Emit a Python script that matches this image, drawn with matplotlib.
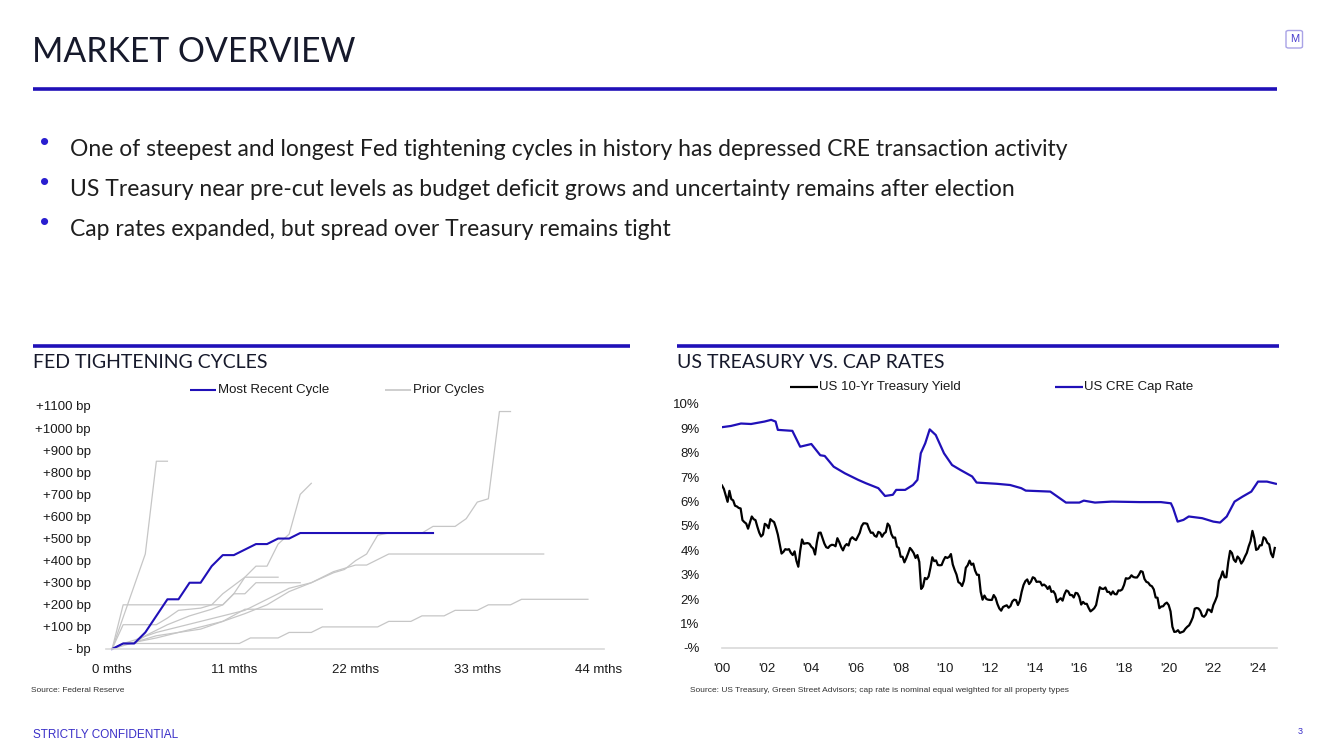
import matplotlib
matplotlib.use("Agg")
import matplotlib.pyplot as plt
from matplotlib.lines import Line2D
from matplotlib.patches import FancyBboxPatch

W, H = 1333, 749
BLUE = "#2010b8"
GREY = "#c6c6c6"
SANS = ["Liberation Sans", "DejaVu Sans"]
HEAD = ["Lato", "DejaVu Sans"]

# ---------------- data: Fed tightening cycles (months, bp) ----------------
recent_months = [0, 1, 2, 3, 4, 5, 6, 7, 8, 9, 10, 11, 12, 13, 14, 15, 16, 17, 29]
recent_bp = [0, 25, 25, 75, 150, 225, 225, 300, 300, 375, 425, 425, 450, 475, 475, 500, 500, 525, 525]

steep_months = [0, 3, 4, 5]
steep_bp = [0, 430, 850, 850]

c750_months = [0, 1, 10, 11, 12, 13, 14, 15, 16, 17, 18]
c750_bp = [0, 200, 200, 250, 325, 375, 375, 475, 520, 700, 750]

c320_months = [0, 1, 4, 5, 6, 8, 9, 10, 12, 15]
c320_bp = [0, 110, 110, 140, 175, 185, 200, 250, 325, 325]

c300_months = [0, 1, 2, 3, 5, 7, 9, 10, 11, 12, 13, 17]
c300_bp = [0, 25, 25, 60, 110, 150, 180, 200, 250, 250, 300, 300]

c180_months = [0, 1, 2, 4, 6, 8, 10, 12, 19]
c180_bp = [0, 25, 30, 60, 75, 90, 125, 180, 180]

c1075_months = [0, 2, 4, 6, 8, 10, 12, 14, 16, 18, 20, 21, 22, 23, 24, 25, 28, 29, 31, 32, 33, 34, 35, 36]
c1075_bp = [0, 30, 50, 75, 100, 125, 160, 200, 260, 300, 345, 360, 400, 430, 515, 525, 525, 555, 555, 590, 665, 680, 1075, 1075]

c425_months = [0, 1, 2, 4, 6, 8, 10, 12, 14, 16, 18, 20, 22, 23, 25, 39]
c425_bp = [0, 25, 40, 75, 100, 125, 150, 175, 225, 275, 300, 350, 380, 380, 430, 430]

c225_months = [0, 1, 11.5, 12.5, 15, 16, 18, 19, 24, 25, 27, 28, 30, 31, 33, 34, 36, 37, 43]
c225_bp = [0, 25, 25, 50, 50, 75, 75, 100, 100, 125, 125, 150, 150, 175, 175, 200, 200, 225, 225]

prior_cycles = [
    (steep_months, steep_bp), (c750_months, c750_bp), (c320_months, c320_bp),
    (c300_months, c300_bp), (c180_months, c180_bp), (c1075_months, c1075_bp),
    (c425_months, c425_bp), (c225_months, c225_bp),
]
cycle_ticks = [0, 11, 22, 33, 44]
bp_ticks = list(range(0, 1200, 100))

# ---------------- data: US 10yr Treasury (monthly, Jan 2000 - Oct 2024) ----------------
treasury = [
    6.66, 6.52, 6.26, 5.99, 6.44, 6.10, 6.05, 5.83, 5.80, 5.74, 5.72, 5.24,
    5.16, 5.10, 4.89, 5.14, 5.39, 5.28, 5.24, 4.97, 4.73, 4.57, 4.65, 5.09,
    5.04, 4.91, 5.28, 5.21, 5.16, 4.93, 4.65, 4.26, 3.87, 3.94, 4.05, 4.03,
    4.05, 3.90, 3.81, 3.96, 3.57, 3.33, 3.98, 4.45, 4.27, 4.29, 4.30, 4.27,
    4.15, 4.08, 3.83, 4.35, 4.72, 4.73, 4.50, 4.28, 4.13, 4.10, 4.19, 4.23,
    4.22, 4.17, 4.50, 4.34, 4.14, 4.00, 4.18, 4.26, 4.20, 4.46, 4.54, 4.47,
    4.42, 4.57, 4.72, 4.99, 5.11, 5.11, 5.09, 4.88, 4.72, 4.73, 4.60, 4.56,
    4.76, 4.72, 4.56, 4.69, 4.75, 5.10, 5.00, 4.67, 4.52, 4.53, 4.15, 4.10,
    3.74, 3.74, 3.51, 3.68, 3.88, 4.10, 4.01, 3.89, 3.69, 3.81, 3.53, 2.42,
    2.52, 2.87, 2.82, 2.93, 3.29, 3.72, 3.56, 3.59, 3.40, 3.39, 3.40, 3.59,
    3.73, 3.69, 3.73, 3.85, 3.42, 3.20, 3.01, 2.70, 2.65, 2.54, 2.76, 3.29,
    3.39, 3.58, 3.41, 3.46, 3.17, 3.00, 3.00, 2.30, 1.98, 2.15, 2.01, 1.98,
    1.97, 1.97, 2.17, 2.05, 1.80, 1.62, 1.53, 1.68, 1.72, 1.75, 1.65, 1.72,
    1.91, 1.98, 1.96, 1.76, 1.93, 2.30, 2.58, 2.74, 2.81, 2.62, 2.72, 2.90,
    2.86, 2.71, 2.72, 2.71, 2.56, 2.60, 2.54, 2.42, 2.53, 2.30, 2.33, 2.21,
    1.88, 1.98, 2.04, 1.94, 2.20, 2.36, 2.32, 2.17, 2.17, 2.07, 2.26, 2.24,
    2.09, 1.78, 1.89, 1.81, 1.81, 1.64, 1.50, 1.56, 1.63, 1.76, 2.14, 2.49,
    2.43, 2.42, 2.48, 2.30, 2.30, 2.19, 2.32, 2.21, 2.20, 2.36, 2.35, 2.40,
    2.58, 2.86, 2.84, 2.87, 2.98, 2.91, 2.89, 2.89, 3.00, 3.15, 3.12, 2.83,
    2.71, 2.68, 2.57, 2.53, 2.40, 2.07, 2.06, 1.63, 1.70, 1.71, 1.81, 1.86,
    1.76, 1.50, 0.87, 0.66, 0.67, 0.73, 0.62, 0.65, 0.68, 0.79, 0.87, 0.93,
    1.08, 1.26, 1.61, 1.64, 1.62, 1.52, 1.32, 1.28, 1.37, 1.58, 1.56, 1.47,
    1.76, 1.93, 2.13, 2.75, 2.90, 3.14, 2.90, 2.90, 3.52, 3.98, 3.89, 3.62,
    3.53, 3.75, 3.66, 3.46, 3.57, 3.75, 3.90, 4.17, 4.38, 4.80, 4.50, 4.02,
    4.06, 4.21, 4.21, 4.54, 4.48, 4.31, 4.25, 3.87, 3.72, 4.10,
]
treasury_years = [2000 + i / 12 for i in range(len(treasury))]

# ---------------- data: US CRE cap rate ----------------
cap_years = [2000.0, 2000.4, 2000.85, 2001.3, 2001.9, 2002.2, 2002.4, 2002.5, 2003.15, 2003.5,
             2004.0, 2004.4, 2004.6, 2005.0, 2005.5, 2006.1, 2006.45, 2007.0, 2007.3, 2007.65,
             2007.8, 2008.2, 2008.55, 2008.75, 2008.9, 2009.1, 2009.3, 2009.57, 2009.94, 2010.3,
             2010.67, 2011.2, 2011.4, 2012.3, 2012.9, 2013.4, 2013.6, 2014.7, 2015.4, 2016.0,
             2016.2, 2016.7, 2017.45, 2018.7, 2019.65, 2020.1, 2020.2, 2020.4, 2020.66, 2020.9,
             2021.5, 2022.0, 2022.3, 2022.6, 2022.95, 2023.3, 2023.7, 2024.0, 2024.4, 2024.8]
cap_rate = [9.05, 9.1, 9.2, 9.18, 9.28, 9.35, 9.28, 8.94, 8.9, 8.25,
            8.36, 7.9, 7.87, 7.43, 7.16, 6.89, 6.75, 6.55, 6.23, 6.28,
            6.48, 6.48, 6.68, 6.89, 7.98, 8.39, 8.96, 8.73, 7.98, 7.5,
            7.3, 7.03, 6.78, 6.73, 6.68, 6.55, 6.45, 6.41, 5.96, 5.96,
            6.04, 5.96, 6.0, 5.98, 5.98, 5.93, 5.73, 5.18, 5.25, 5.39,
            5.32, 5.18, 5.14, 5.39, 6.0, 6.2, 6.41, 6.82, 6.82, 6.73]
year_ticks = list(range(2000, 2025, 2))
pct_ticks = list(range(0, 11))

bullets = [
    "One of steepest and longest Fed tightening cycles in history has depressed CRE transaction activity",
    "US Treasury near pre-cut levels as budget deficit grows and uncertainty remains after election",
    "Cap rates expanded, but spread over Treasury remains tight",
]

fig = plt.figure(figsize=(W / 100, H / 100), dpi=100)


def fx(px):
    return px / W


def fy(py):
    return 1 - py / H


def axes_px(x0, y0, x1, y1):
    return fig.add_axes([fx(x0), fy(y1), (x1 - x0) / W, (y1 - y0) / H])


def hline(x0, x1, y, color, lw):
    fig.add_artist(Line2D([fx(x0), fx(x1)], [fy(y), fy(y)], color=color, lw=lw,
                          solid_capstyle="butt"))


# header
fig.text(fx(32), fy(52), "MARKET OVERVIEW", fontsize=24.3, family=HEAD, color="#16192b",
         va="center", ha="left")
hline(33, 1277, 88.5, BLUE, 2.6)
fig.add_artist(FancyBboxPatch((fx(1286), fy(48)), fx(16.5), 17.5 / H,
                              boxstyle="round,pad=0,rounding_size=0.002",
                              fc="white", ec="#a9a3e6", lw=1.0, transform=fig.transFigure))
fig.text(fx(1294.3), fy(39.5), "M", fontsize=8, family=SANS, color="#4a3fcf",
         ha="center", va="center")

for i, b in enumerate(bullets):
    y = 148 + 40 * i
    fig.text(fx(45), fy(y - 5), "\u2022", fontsize=19, color="#2a1fd0", ha="center",
             va="center", family=SANS)
    fig.text(fx(70), fy(y + 2), b, fontsize=16.5, family=HEAD, color="#1e1e1e",
             ha="left", va="center")

# panel headings
hline(33, 630, 346, BLUE, 2.6)
hline(677, 1279, 346, BLUE, 2.6)
fig.text(fx(33), fy(362), "FED TIGHTENING CYCLES", fontsize=14, family=HEAD,
         color="#16192b", va="center")
fig.text(fx(677), fy(362), "US TREASURY VS. CAP RATES", fontsize=14, family=HEAD,
         color="#16192b", va="center")

# ---------------- left chart ----------------
ax1 = axes_px(106, 406, 604, 649)
for m, v in prior_cycles:
    ax1.plot(m, v, color=GREY, lw=0.9, clip_on=False)
ax1.plot(recent_months, recent_bp, color=BLUE, lw=1.5, clip_on=False)
ax1.set_xlim(-0.55, 44.45)
ax1.set_ylim(0, 1100)
ax1.set_xticks(cycle_ticks)
ax1.set_xticklabels([f"{t} mths" for t in cycle_ticks])
ax1.set_yticks(bp_ticks)
ax1.set_yticklabels(["- bp"] + [f"+{t} bp" for t in bp_ticks[1:]])
ax1.tick_params(length=0, labelsize=9.5, pad=11, colors="#1a1a1a")
for lab in ax1.get_xticklabels() + ax1.get_yticklabels():
    lab.set_family(SANS)
for s in ["top", "right", "left"]:
    ax1.spines[s].set_visible(False)
ax1.spines["bottom"].set_color("#d9d9d9")
ax1.spines["bottom"].set_linewidth(1.2)
ax1.patch.set_alpha(0)

hline(190, 216, 390, BLUE, 1.5)
fig.text(fx(218), fy(390), "Most Recent Cycle", fontsize=9.5, family=SANS,
         color="#1a1a1a", va="center")
hline(385, 411, 390, GREY, 1.2)
fig.text(fx(413), fy(390), "Prior Cycles", fontsize=9.5, family=SANS,
         color="#1a1a1a", va="center")
fig.text(fx(31), fy(690), "Source: Federal Reserve", fontsize=6, family=SANS,
         color="#333333", va="center")

# ---------------- right chart ----------------
ax2 = axes_px(722, 404, 1277, 648)
ax2.plot(treasury_years, treasury, color="black", lw=1.6)
ax2.plot(cap_years, cap_rate, color=BLUE, lw=1.6)
ax2.set_xlim(2000, 2024.85)
ax2.set_ylim(0, 10)
ax2.set_xticks(year_ticks)
ax2.set_xticklabels([f"'{t % 100:02d}" for t in year_ticks])
ax2.set_yticks(pct_ticks)
ax2.set_yticklabels(["-%"] + [f"{t}%" for t in pct_ticks[1:]])
ax2.tick_params(length=0, labelsize=9.5, colors="#1a1a1a")
ax2.tick_params(axis="y", pad=16)
ax2.tick_params(axis="x", pad=11)
for lab in ax2.get_xticklabels() + ax2.get_yticklabels():
    lab.set_family(SANS)
for s in ["top", "right", "left"]:
    ax2.spines[s].set_visible(False)
ax2.spines["bottom"].set_color("#d9d9d9")
ax2.spines["bottom"].set_linewidth(1.2)
ax2.patch.set_alpha(0)

hline(790, 818, 387, "black", 1.6)
fig.text(fx(819), fy(387), "US 10-Yr Treasury Yield", fontsize=9.5, family=SANS,
         color="#1a1a1a", va="center")
hline(1055, 1083, 387, BLUE, 1.6)
fig.text(fx(1084), fy(387), "US CRE Cap Rate", fontsize=9.5, family=SANS,
         color="#1a1a1a", va="center")
fig.text(fx(690), fy(690),
         "Source: US Treasury, Green Street Advisors; cap rate is nominal equal weighted for all property types",
         fontsize=6, family=SANS, color="#333333", va="center")

# footer
fig.text(fx(33), fy(735), "STRICTLY CONFIDENTIAL", fontsize=8.5, family=SANS,
         color="#3a2fc8", va="center")
fig.text(fx(1300), fy(731), "3", fontsize=6.5, family=SANS, color="#3a2fc8",
         va="center", ha="center")

fig.savefig("out.png", dpi=100, facecolor="white")
